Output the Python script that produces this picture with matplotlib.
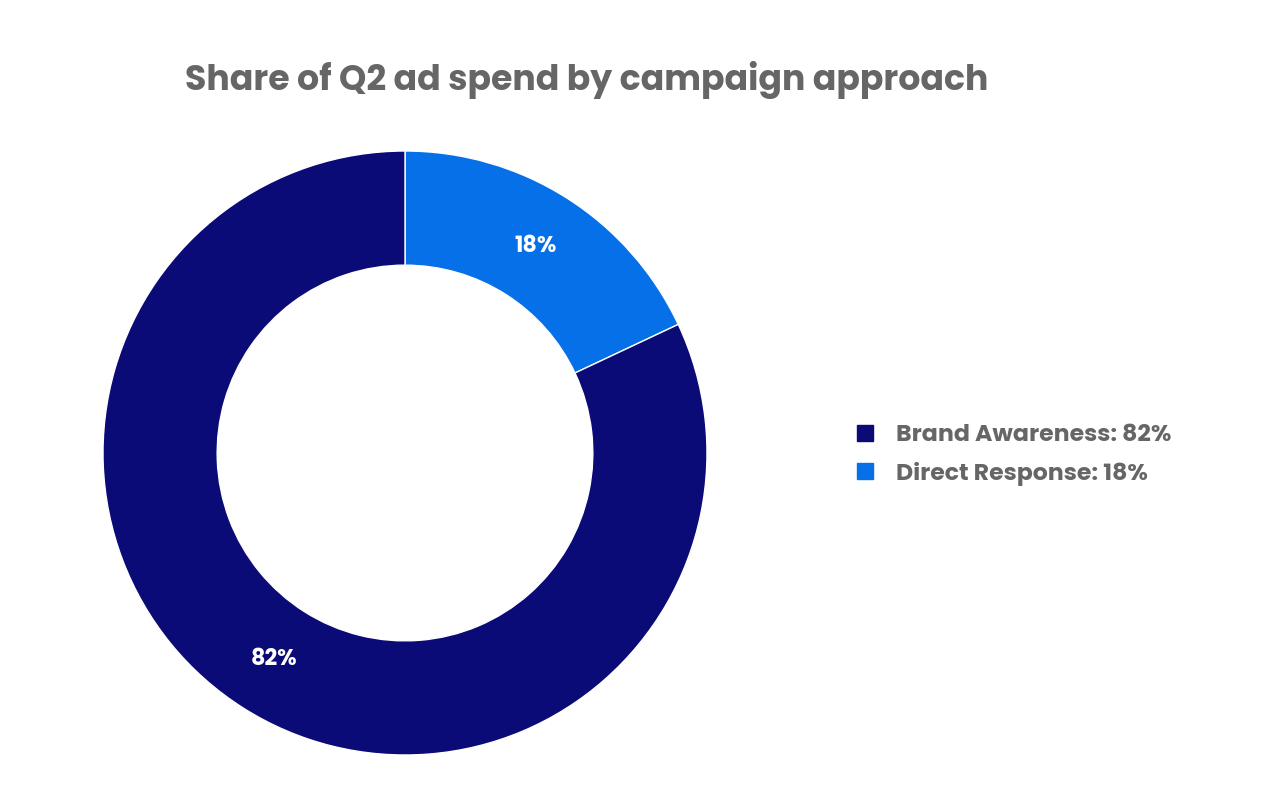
import matplotlib
matplotlib.use("Agg")
import matplotlib.pyplot as plt
from matplotlib.lines import Line2D

labels = ["Direct Response", "Brand Awareness"]
values = [18, 82]
colors = ["#0570e8", "#0b0b78"]
legend_order = [1, 0]

plt.rcParams['font.family'] = ['Poppins', 'Lato', 'DejaVu Sans']
fig = plt.figure(figsize=(12.8, 8.09), dpi=100)
cx, cy = 405/1280, 1-453/809
rw, rh = 302/1280, 302/809
ax = fig.add_axes([cx-rw, cy-rh, 2*rw, 2*rh])
wedges, texts, autotexts = ax.pie(values, colors=colors, startangle=90, counterclock=False,
       radius=1, wedgeprops=dict(width=0.378, edgecolor='white', linewidth=1),
       autopct=lambda p: f"{p:.0f}%", pctdistance=0.81,
       textprops=dict(color='white', fontsize=16, fontweight='bold'))
ax.set_xlim(-1, 1); ax.set_ylim(-1, 1); ax.set_aspect('equal'); ax.axis('off')

fig.text(587/1280, 1-80/809, "Share of Q2 ad spend by campaign approach", ha='center', va='center',
         fontsize=25, fontweight='bold', color='#666666')

handles = [Line2D([], [], marker='s', linestyle='', markersize=12, color=colors[i]) for i in legend_order]
leg_labels = [f"{labels[i]}: {values[i]}%" for i in legend_order]
leg = fig.legend(handles, leg_labels, loc='center left', bbox_to_anchor=(820/1280, 1-455/809),
                 frameon=False, fontsize=17, handletextpad=0.3, labelspacing=0.6)
for t in leg.get_texts():
    t.set_color('#666666'); t.set_fontweight('bold')
fig.savefig("out.png", dpi=100, facecolor='white')
